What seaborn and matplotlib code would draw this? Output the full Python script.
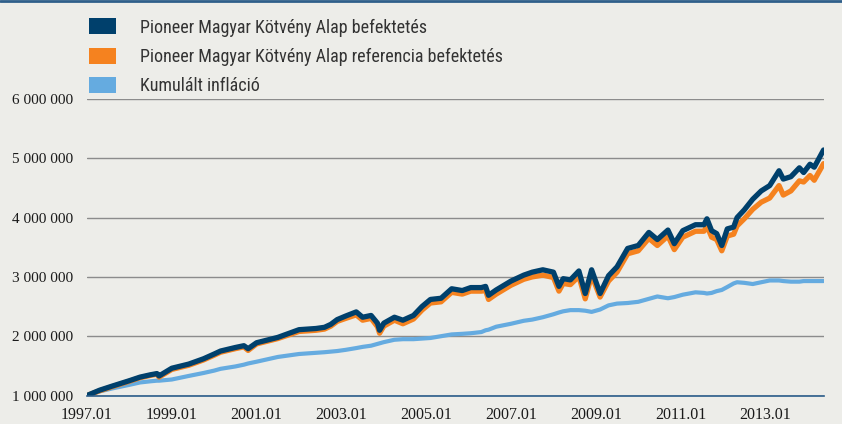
import pandas as pd
import matplotlib
matplotlib.use("Agg")
import matplotlib.pyplot as plt
from matplotlib.patches import Patch
from matplotlib.ticker import FuncFormatter
import seaborn as sns

# Data (decimal year, value in million HUF)
dates = [1997.0, 1997.3, 1997.6, 1998.0, 1998.25, 1998.5, 1998.65, 1998.7, 1999.0, 1999.4,
         1999.75, 2000.0, 2000.15, 2000.5, 2000.7, 2000.8, 2001.0, 2001.5, 2002.0, 2002.4,
         2002.6, 2002.75, 2002.9, 2003.1, 2003.35, 2003.5, 2003.7, 2003.85, 2003.9, 2004.0,
         2004.25, 2004.45, 2004.7, 2004.9, 2005.1, 2005.35, 2005.6, 2005.85, 2006.05, 2006.3,
         2006.4, 2006.47, 2006.65, 2007.0, 2007.3, 2007.5, 2007.75, 2008.0, 2008.13, 2008.23,
         2008.4, 2008.6, 2008.75, 2008.9, 2009.1, 2009.3, 2009.5, 2009.75, 2010.0, 2010.25,
         2010.45, 2010.7, 2010.85, 2011.05, 2011.35, 2011.55, 2011.62, 2011.73, 2011.85, 2011.97,
         2012.1, 2012.25, 2012.33, 2012.5, 2012.7, 2012.9, 2013.1, 2013.32, 2013.42, 2013.6,
         2013.8, 2013.9, 2014.05, 2014.15, 2014.37]

fund = [1.00, 1.09, 1.16, 1.25, 1.31, 1.35, 1.37, 1.33, 1.46, 1.53,
        1.62, 1.70, 1.75, 1.81, 1.84, 1.79, 1.89, 1.98, 2.11, 2.13,
        2.15, 2.20, 2.28, 2.34, 2.41, 2.32, 2.35, 2.22, 2.10, 2.22,
        2.32, 2.27, 2.35, 2.50, 2.62, 2.64, 2.80, 2.77, 2.82, 2.82,
        2.84, 2.69, 2.78, 2.93, 3.03, 3.08, 3.12, 3.08, 2.84, 2.97,
        2.95, 3.10, 2.72, 3.12, 2.72, 3.02, 3.17, 3.48, 3.53, 3.75,
        3.63, 3.79, 3.56, 3.78, 3.88, 3.88, 3.98, 3.78, 3.73, 3.53,
        3.81, 3.84, 4.00, 4.13, 4.31, 4.45, 4.54, 4.79, 4.65, 4.69,
        4.84, 4.76, 4.90, 4.85, 5.14]

reference = [1.00, 1.08, 1.15, 1.24, 1.30, 1.34, 1.36, 1.31, 1.44, 1.51,
             1.60, 1.68, 1.73, 1.79, 1.82, 1.76, 1.87, 1.96, 2.08, 2.10,
             2.12, 2.17, 2.25, 2.30, 2.36, 2.27, 2.30, 2.16, 2.05, 2.17,
             2.27, 2.21, 2.29, 2.44, 2.56, 2.58, 2.74, 2.71, 2.76, 2.76,
             2.77, 2.62, 2.71, 2.86, 2.96, 3.00, 3.03, 2.99, 2.76, 2.89,
             2.87, 3.01, 2.63, 3.03, 2.66, 2.93, 3.08, 3.39, 3.44, 3.65,
             3.53, 3.69, 3.46, 3.67, 3.77, 3.77, 3.86, 3.67, 3.63, 3.44,
             3.69, 3.72, 3.86, 3.98, 4.14, 4.26, 4.33, 4.54, 4.38, 4.45,
             4.62, 4.60, 4.71, 4.63, 4.91]

inflation = [1.00, 1.07, 1.12, 1.18, 1.22, 1.24, 1.25, 1.25, 1.27, 1.33,
             1.38, 1.42, 1.45, 1.49, 1.52, 1.54, 1.57, 1.65, 1.70, 1.72,
             1.73, 1.74, 1.75, 1.77, 1.80, 1.82, 1.84, 1.87, 1.88, 1.90,
             1.94, 1.95, 1.95, 1.96, 1.97, 2.00, 2.03, 2.04, 2.05, 2.07,
             2.10, 2.11, 2.16, 2.21, 2.26, 2.28, 2.32, 2.37, 2.40, 2.42,
             2.44, 2.44, 2.43, 2.41, 2.45, 2.52, 2.55, 2.56, 2.58, 2.63,
             2.67, 2.64, 2.66, 2.70, 2.74, 2.73, 2.72, 2.73, 2.76, 2.78,
             2.83, 2.89, 2.91, 2.90, 2.88, 2.91, 2.94, 2.94, 2.93, 2.92,
             2.92, 2.93, 2.93, 2.93, 2.93]

labels = ["Pioneer Magyar Kötvény Alap befektetés",
          "Pioneer Magyar Kötvény Alap referencia befektetés",
          "Kumulált infláció"]
colors = ["#00406C", "#F5821F", "#65ABE0"]
yticks = [1000000, 2000000, 3000000, 4000000, 5000000, 6000000]
xticks = [1997, 1999, 2001, 2003, 2005, 2007, 2009, 2011, 2013]

df = pd.DataFrame({"date": dates, "fund": fund, "reference": reference, "inflation": inflation})
for c in ["fund", "reference", "inflation"]:
    df[c] = df[c] * 1000000

bg = "#EDEDE9"
sns.set_style("white")
plt.rcParams["font.family"] = ["Liberation Serif", "DejaVu Serif"]

fig = plt.figure(figsize=(8.42, 4.24), dpi=100, facecolor=bg)
ax = fig.add_axes([0.1033, 0.0672, 0.8753, 0.6993])
ax.set_facecolor(bg)

sns.lineplot(data=df, x="date", y="inflation", ax=ax, color=colors[2], linewidth=3.0)
sns.lineplot(data=df, x="date", y="reference", ax=ax, color=colors[1], linewidth=3.8)
sns.lineplot(data=df, x="date", y="fund", ax=ax, color=colors[0], linewidth=3.8)

ax.set_xlim(1997.0, 2014.38)
ax.set_ylim(1000000, 6000000)
ax.set_yticks(yticks)
ax.yaxis.set_major_formatter(FuncFormatter(lambda v, p: f"{int(v):,}".replace(",", " ")))
ax.set_xticks(xticks)
ax.set_xticklabels([f"{y}.01" for y in xticks])
ax.set_xlabel("")
ax.set_ylabel("")

ax.grid(axis="y", color="#8C8C8C", linewidth=1.0)
ax.set_axisbelow(True)
for s in ["top", "right", "left"]:
    ax.spines[s].set_visible(False)
ax.spines["bottom"].set_color("#2A5C8A")
ax.spines["bottom"].set_linewidth(1.2)
ax.tick_params(axis="x", direction="out", length=5, width=1, color="#2A5C8A",
               labelsize=11.5, labelcolor="#1A1A1A", pad=3)
ax.tick_params(axis="y", length=0, labelsize=11, labelcolor="#1A1A1A", pad=10)

# top border line
fig.add_artist(plt.Line2D([0, 1], [0.9965, 0.9965], color="#2F5F8A", linewidth=2,
                          transform=fig.transFigure))

handles = [Patch(facecolor=c, edgecolor="none") for c in colors]
fig.legend(handles, labels, loc="upper left", bbox_to_anchor=(0.097, 0.974),
           frameon=False, prop={"family": ["Roboto Condensed", "Liberation Sans"], "size": 13},
           labelcolor="#333333", handlelength=1.5, handleheight=1.0,
           handletextpad=1.35, labelspacing=0.62, borderaxespad=0)

fig.savefig("out.png", dpi=100, facecolor=bg)
